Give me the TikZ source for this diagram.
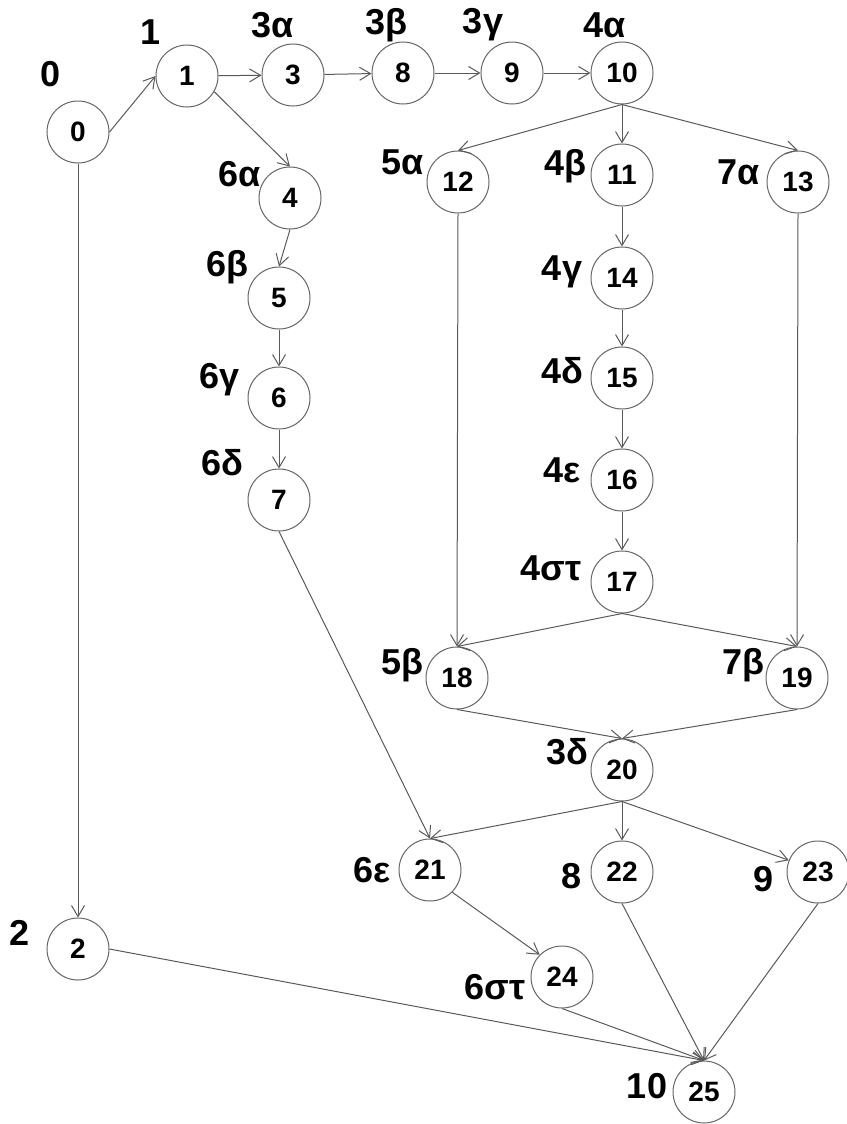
\documentclass[tikz,border=0pt]{standalone}
\usepackage{fontspec}
\setmainfont{Liberation Sans}
\usepackage{tikz}
\usetikzlibrary{arrows.meta}

\begin{document}
\begin{tikzpicture}[
    x=0.5pt, y=-0.5pt,
    state/.style={circle, draw=black!60, line width=0.5pt, fill=white, minimum size=31pt, inner sep=0pt, font=\fontsize{14}{14}\selectfont\bfseries},
    tag/.style={inner sep=0pt, font=\fontsize{18}{18}\selectfont\bfseries},
    edge/.style={-{Straight Barb[length=5.5pt,width=6.5pt]}, draw=black!65, line width=0.5pt}
]
    \useasboundingbox (0,0) rectangle (846,1124);

    % Top row
    \node (n0) at (78,132) [state] {0};
    \node (n1) at (187,76) [state] {1};
    \node (n3) at (293,75) [state] {3};
    \node (n8) at (403,73) [state] {8};
    \node (n9) at (512,73) [state] {9};
    \node (n10) at (622,73) [state] {10};

    % Left branch
    \node (n4) at (290,198) [state] {4};
    \node (n5) at (279,298) [state] {5};
    \node (n6) at (279,398) [state] {6};
    \node (n7) at (279,500) [state] {7};
    \node (n2) at (78,949) [state] {2};

    % Middle columns
    \node (n12) at (458,182) [state] {12};
    \node (n11) at (622,175) [state] {11};
    \node (n13) at (798,182) [state] {13};
    \node (n14) at (622,278) [state] {14};
    \node (n15) at (622,378) [state] {15};
    \node (n16) at (622,480) [state] {16};
    \node (n17) at (622,582) [state] {17};
    \node (n18) at (457,678) [state] {18};
    \node (n19) at (797,678) [state] {19};
    \node (n20) at (622,770) [state] {20};

    % Bottom part
    \node (n21) at (430,870) [state] {21};
    \node (n22) at (622,872) [state] {22};
    \node (n23) at (818,872) [state] {23};
    \node (n24) at (562,977) [state] {24};
    \node (n25) at (704,1092) [state] {25};

    % Labels
    \node (l0) at (51,74) [tag] {0};
    \node (l1) at (151,32) [tag] {1};
    \node (l3) at (273,25) [tag] {3α};
    \node (l8) at (386,25) [tag] {3β};
    \node (l9) at (483,25) [tag] {3γ};
    \node (l10) at (605,25) [tag] {4α};
    \node (l4) at (240,174) [tag] {6α};
    \node (l5) at (227,267) [tag] {6β};
    \node (l6) at (220,380) [tag] {6γ};
    \node (l7) at (222,463) [tag] {6δ};
    \node (l12) at (403,162) [tag] {5α};
    \node (l11) at (565,166) [tag] {4β};
    \node (l13) at (739,172) [tag] {7α};
    \node (l14) at (562,272) [tag] {4γ};
    \node (l15) at (562,371) [tag] {4δ};
    \node (l16) at (562,470) [tag] {4ε};
    \node (l17) at (551,568) [tag] {4στ};
    \node (l18) at (402,665) [tag] {5β};
    \node (l19) at (743,665) [tag] {7β};
    \node (l20) at (567,752) [tag] {3δ};
    \node (l21) at (372,870) [tag] {6ε};
    \node (l22) at (572,876) [tag] {8};
    \node (l23) at (764,879) [tag] {9};
    \node (l24) at (495,987) [tag] {6στ};
    \node (l25) at (647,1086) [tag] {10};
    \node (l2) at (20,933) [tag] {2};

    % Top row connectors
    \draw [edge] (n0.east) -- (n1.west);
    \draw [edge] (n1) -- (n3);
    \draw [edge] (n3) -- (n8);
    \draw [edge] (n8) -- (n9);
    \draw [edge] (n9) -- (n10);

    % Left branch connectors
    \draw [edge] (n1.-30) -- (n4.north);
    \draw [edge] (n4.south) -- (n5.north);
    \draw [edge] (n5) -- (n6);
    \draw [edge] (n6) -- (n7);
    \draw [edge] (n7.south) -- (n21.north);
    \draw [edge] (n0) -- (n2);

    % Fork below 10
    \draw [edge] (n10.south) -- (n12.north);
    \draw [edge] (n10) -- (n11);
    \draw [edge] (n10.south) -- (n13.north);
    \draw [edge] (n11) -- (n14);
    \draw [edge] (n14) -- (n15);
    \draw [edge] (n15) -- (n16);
    \draw [edge] (n16) -- (n17);
    \draw [edge] (n12.south) -- (n18.north);
    \draw [edge] (n13.south) -- (n19.north);
    \draw [edge] (n17.south) -- (n18.north);
    \draw [edge] (n17.south) -- (n19.north);

    % Join and second fork
    \draw [edge] (n18.south) -- (n20.north);
    \draw [edge] (n19.south) -- (n20.north);
    \draw [edge] (n20.south) -- (n21.north);
    \draw [edge] (n20) -- (n22);
    \draw [edge] (n20.south) -- (n23.158);
    \draw [edge] (n21.south east) -- (n24.north west);

    % Into 25
    \draw [edge] (n2.east) -- (n25.north);
    \draw [edge] (n24.south) -- (n25.north);
    \draw [edge] (n22.south) -- (n25.north);
    \draw [edge] (n23.south) -- (n25.north);

\end{tikzpicture}
\end{document}
